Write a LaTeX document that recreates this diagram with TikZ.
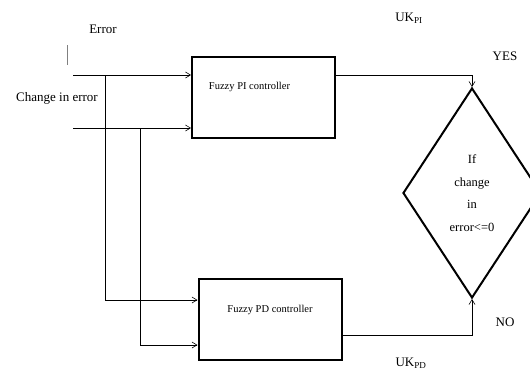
\documentclass[tikz,border=0pt]{standalone}
\usepackage{fontspec}
\setmainfont{Liberation Serif}
\usetikzlibrary{arrows.meta, positioning, shapes.geometric, calc}

\begin{document}
\begin{tikzpicture}[x=1pt, y=-1pt,
  ctrl/.style={draw, line width=2pt, minimum width=143pt, minimum height=81pt, inner sep=0pt},
  decide/.style={draw, shape=diamond, line width=2pt, minimum width=138pt, minimum height=210pt,
                 inner sep=0pt, align=center, font=\fontsize{12.5}{22.5}\selectfont},
  lbl/.style={font=\fontsize{13}{14}\selectfont},
  inlbl/.style={font=\fontsize{10.5}{12}\selectfont},
  wire/.style={line width=0.6pt},
  feed/.style={wire, -{Straight Barb[length=5pt, width=6pt]}},
]
  \useasboundingbox (0,0) rectangle (530,372);
  \node[ctrl, label={[inlbl, anchor=north, xshift=-14pt, yshift=-23pt]north:Fuzzy PI controller}] (pi) at (263.5,97.5) {};
  \node[ctrl, label={[inlbl, anchor=north, yshift=-24pt]north:Fuzzy PD controller}] (pd) at (270,319) {};
  \node[decide] (dec) at (472,193) {If\\change\\in\\error<=0};

  \node[lbl] (err) at (103,29) {Error};
  \node[lbl] (chg) at (57,98) {Change in error};
  \node[lbl] (ukpi) at (409,18) {UK\textsubscript{PI}};
  \node[lbl] (ukpd) at (411,363) {UK\textsubscript{PD}};
  \node[lbl] (yes) at (505,56) {YES};
  \node[lbl] (no) at (505,322) {NO};

  \coordinate (e) at (73,75);
  \coordinate (de) at (73,128);
  \coordinate (b1) at (105,75);
  \coordinate (b2) at (140,128);
  \draw[line width=1pt, gray] (67,45) -- (67,65);

  \draw[feed] (e) -- (e -| pi.west);
  \draw[feed] (de) -- (de -| pi.west);
  \draw[feed] (b1) |- ([yshift=19pt]pd.west);
  \draw[feed] (b2) |- ([yshift=-26pt]pd.west);
  \draw[feed] (pi.east |- e) -| (dec.north);
  \draw[feed] ([yshift=-16pt]pd.east) -| (dec.south);
\end{tikzpicture}
\end{document}
